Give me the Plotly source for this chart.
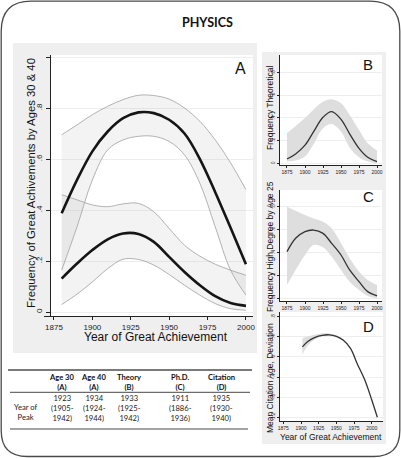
import plotly.graph_objects as go

W, H = 401, 458

# ---------------- data ----------------
yrs_a = [1880, 1890, 1900, 1910, 1920, 1930, 1940, 1950, 1960, 1970, 1980, 1990, 2000]
age40_mean = [0.387, 0.518, 0.63, 0.708, 0.76, 0.783, 0.78, 0.754, 0.70, 0.60, 0.47, 0.33, 0.187]
age40_hi = [0.695, 0.734, 0.774, 0.807, 0.833, 0.85, 0.849, 0.835, 0.80, 0.748, 0.675, 0.585, 0.48]
age40_lo = [0.164, 0.334, 0.518, 0.636, 0.675, 0.689, 0.689, 0.669, 0.616, 0.505, 0.334, 0.164, 0.066]
age30_mean = [0.131, 0.19, 0.243, 0.285, 0.308, 0.306, 0.275, 0.216, 0.157, 0.105, 0.062, 0.035, 0.024]
age30_hi = [0.46, 0.44, 0.42, 0.413, 0.424, 0.426, 0.393, 0.328, 0.262, 0.219, 0.1875, 0.164, 0.144]
age30_lo = [0.029, 0.07, 0.118, 0.17, 0.207, 0.206, 0.184, 0.147, 0.105, 0.066, 0.033, 0.013, 0.007]

yrs_bc = [1875, 1887, 1900, 1912, 1925, 1937, 1950, 1962, 1975, 1987, 2000]
theory_mean = [0.038, 0.082, 0.16, 0.28, 0.406, 0.456, 0.388, 0.26, 0.132, 0.053, 0.015]
theory_hi = [0.265, 0.33, 0.40, 0.476, 0.544, 0.565, 0.53, 0.426, 0.294, 0.176, 0.112]
theory_lo = [0.015, 0.024, 0.06, 0.17, 0.31, 0.347, 0.28, 0.14, 0.053, 0.015, 0.0]

phd_mean = [0.407, 0.524, 0.582, 0.596, 0.567, 0.48, 0.378, 0.247, 0.145, 0.058, 0.02]
phd_hi = [0.80, 0.765, 0.727, 0.698, 0.669, 0.611, 0.48, 0.349, 0.233, 0.16, 0.116]
phd_lo = [0.116, 0.247, 0.378, 0.465, 0.445, 0.364, 0.247, 0.145, 0.073, 0.02, 0.0]

yrs_d = [1902, 1910, 1920, 1930, 1940, 1950, 1960, 1970, 1980, 1990, 2000, 2008]
cite_mean = [0.20, 0.31, 0.39, 0.43, 0.44, 0.41, 0.33, 0.17, -0.15, -0.45, -0.85, -1.20]
cite_hi = [0.37, 0.41, 0.44, 0.47, 0.465, 0.425, 0.34, 0.18, -0.14, -0.44, -0.84, -1.19]
cite_lo = [0.05, 0.23, 0.35, 0.41, 0.42, 0.40, 0.32, 0.16, -0.16, -0.46, -0.86, -1.21]

x_ticks = [1875, 1900, 1925, 1950, 1975, 2000]
a_yticks = [0, 0.2, 0.4, 0.6, 0.8, 1.0]
a_yticklabels = ["0", ".2", ".4", ".6", ".8", ""]
bc_yticks = [0, 0.2, 0.4, 0.6, 0.8]
bc_yticklabels = ["0", ".2", ".4", ".6", ".8"]
d_yticks = [-1.2, -0.8, -0.4, 0, 0.4, 0.8]
d_yticklabels = ["-1.2", "-.8", "-.4", "0", ".4", ".8"]

table_cols = ["Age 30<br>(A)", "Age 40<br>(A)", "Theory<br>(B)", "Ph.D.<br>(C)", "Citation<br>(D)"]
table_vals = ["1923<br>(1905-<br>1942)", "1934<br>(1924-<br>1944)", "1933<br>(1925-<br>1942)",
              "1911<br>(1886-<br>1936)", "1935<br>(1930-<br>1940)"]
row_label = "Year of<br>Peak"

# ---------------- helpers ----------------
def X(px):
    return px / W

def Y(py):
    return 1 - py / H

ARIAL = "Liberation Sans, Arial, sans-serif"
CAL = "Lato, Open Sans, sans-serif"

fig = go.Figure()

def band(x, lo, hi, xa, ya, fill, linecol, lw):
    fig.add_trace(go.Scatter(x=x, y=lo, mode="lines", line=dict(color=linecol, width=lw, shape="spline"),
                             xaxis=xa, yaxis=ya, hoverinfo="skip"))
    fig.add_trace(go.Scatter(x=x, y=hi, mode="lines", line=dict(color=linecol, width=lw, shape="spline"),
                             fill="tonexty", fillcolor=fill, xaxis=xa, yaxis=ya, hoverinfo="skip"))

def line(x, y, xa, ya, col, lw):
    fig.add_trace(go.Scatter(x=x, y=y, mode="lines", line=dict(color=col, width=lw, shape="spline"),
                             xaxis=xa, yaxis=ya, hoverinfo="skip"))

# Panel A
band(yrs_a, age40_lo, age40_hi, "x", "y", "rgba(175,175,175,0.15)", "#a0a0a0", 0.8)
band(yrs_a, age30_lo, age30_hi, "x", "y", "rgba(175,175,175,0.15)", "#a0a0a0", 0.8)
line(yrs_a, age40_mean, "x", "y", "#151515", 2.6)
line(yrs_a, age30_mean, "x", "y", "#151515", 2.6)

# Panel B
band(yrs_bc, theory_lo, theory_hi, "x2", "y2", "#dedede", "rgba(0,0,0,0)", 0)
line(yrs_bc, theory_mean, "x2", "y2", "#333333", 1.3)
# Panel C
band(yrs_bc, phd_lo, phd_hi, "x3", "y3", "#dedede", "rgba(0,0,0,0)", 0)
line(yrs_bc, phd_mean, "x3", "y3", "#333333", 1.3)
# Panel D
band(yrs_d, cite_lo, cite_hi, "x4", "y4", "#dedede", "rgba(0,0,0,0)", 0)
line(yrs_d, cite_mean, "x4", "y4", "#333333", 1.3)

common = dict(showline=True, linecolor="#222222", linewidth=0.8, ticks="outside", tickcolor="#222222",
              automargin=False, zeroline=False, fixedrange=True, ticklabeloverflow="allow")

def xax(dom, rng, size, tlen):
    return dict(domain=[X(dom[0]), X(dom[1])], range=rng, tickvals=x_ticks, ticktext=[str(t) for t in x_ticks],
                tickfont=dict(family=ARIAL, size=size, color="#222222"), ticklen=tlen, showgrid=False, **common)

def yax(dom, rng, vals, labels, size, tlen, anchor):
    return dict(domain=[Y(dom[1]), Y(dom[0])], range=rng, tickvals=vals, ticktext=labels, tickangle=-90,
                tickfont=dict(family=ARIAL, size=size, color="#222222"), ticklen=tlen,
                showgrid=True, gridcolor="#eeeeee", gridwidth=0.8, anchor=anchor, **common)

ya = yax((55, 316), [-0.0157, 1.008], a_yticks, a_yticklabels, 8, 4, "free")
ya["position"] = X(49.5)

fig.update_layout(
    width=W, height=H, margin=dict(l=0, r=0, t=0, b=0, pad=0),
    paper_bgcolor="white", plot_bgcolor="rgba(0,0,0,0)", showlegend=False,
    xaxis=dict(anchor="y", **xax((44, 253), [1868.5, 2004.6], 8, 3)),
    yaxis=ya,
    xaxis2=dict(anchor="y2", **xax((280, 382), [1865.3, 2006.9], 5, 2)),
    yaxis2=yax((55, 165), [-0.015, 0.956], bc_yticks, bc_yticklabels, 4.5, 2, "x2"),
    xaxis3=dict(anchor="y3", **xax((280, 382), [1865.3, 2006.9], 5, 2)),
    yaxis3=yax((190, 301), [-0.024, 0.946], bc_yticks, bc_yticklabels, 4.5, 2, "x3"),
    xaxis4=dict(anchor="y4", **xax((280, 383), [1870.3, 2016], 5, 2)),
    yaxis4=yax((312, 421), [-1.274, 0.893], d_yticks, d_yticklabels, 4.5, 2, "x4"),
)

shapes = []
def rect(x0, y0, x1, y1, fill, lw=0, lc=None):
    shapes.append(dict(type="rect", xref="paper", yref="paper", x0=X(x0), x1=X(x1), y0=Y(y1), y1=Y(y0),
                       fillcolor=fill, line=dict(width=lw, color=lc or fill), layer="below"))

# outer rounded border
rt, rb = 30, 26
L, R, T, B = 1.2, 399.8, 1.2, 456.5
def P(px, py):
    return f"{X(px):.5f},{Y(py):.5f}"
path = (f"M {P(L+rt, T)} L {P(R-rt, T)} Q {P(R, T)} {P(R, T+rt)} L {P(R, B-rb)} Q {P(R, B)} {P(R-rb, B)} "
        f"L {P(L+rb, B)} Q {P(L, B)} {P(L, B-rb)} L {P(L, T+rt)} Q {P(L, T)} {P(L+rt, T)} Z")
shapes.append(dict(type="path", xref="paper", yref="paper", path=path, line=dict(color="#4a4a4a", width=1.3),
                   fillcolor="rgba(0,0,0,0)", layer="below"))

# gray graph regions
rect(13, 43, 257, 353, "#efefef")
rect(262, 52, 386, 444, "#efefef")
# white plot regions
rect(50, 55, 253, 316, "white")
rect(280, 55, 382, 165, "white")
rect(280, 190, 382, 301, "white")
rect(280, 312, 383, 421, "white")

# table rules
shapes.append(dict(type="line", xref="paper", yref="paper", x0=X(8), x1=X(252), y0=Y(370), y1=Y(370),
                   line=dict(color="#7a7a7a", width=2.2)))
shapes.append(dict(type="line", xref="paper", yref="paper", x0=X(10), x1=X(250), y0=Y(392.3), y1=Y(392.3),
                   line=dict(color="#333333", width=0.9)))
shapes.append(dict(type="line", xref="paper", yref="paper", x0=X(10), x1=X(248), y0=Y(429), y1=Y(429),
                   line=dict(color="#333333", width=0.9)))
fig.update_layout(shapes=shapes)

ann = []
def text(s, px, py, size, family=ARIAL, bold=False, angle=0, color="#111111"):
    if bold:
        s = "<b>" + s + "</b>"
    ann.append(dict(text=s, x=X(px), y=Y(py), xref="paper", yref="paper", showarrow=False,
                    xanchor="center", yanchor="middle", textangle=angle,
                    font=dict(family=family, size=size, color=color)))

text("PHYSICS", 207, 23, 12.5, family=CAL, bold=True)
text("Frequency of Great Achivements by Ages 30 &amp; 40", 31, 183, 11.3, angle=-90)
text("Year of Great Achievement", 156, 337, 12)
text("A", 240, 68, 16)
text("B", 368, 64, 15)
text("C", 368, 196, 15)
text("D", 368, 326, 15)
text("Frequency Theoretical", 270, 108, 8.5, angle=-90)
text("Frequency High Degree by Age 25", 270, 247, 8.5, angle=-90)
text("Mean Citation Age, Deviation", 270, 378, 8.5, angle=-90)
text("Year of Great Achievement", 331, 437, 8.5)

col_x = [62, 94, 129, 180, 221]
for cx, hdr, val in zip(col_x, table_cols, table_vals):
    text("<b>" + hdr.replace("<br>", "</b><br><b>") + "</b>", cx, 381.5, 7.6, family=CAL)
    text(val, cx, 407.5, 7.6, family=CAL, color="#222222")
text(row_label, 25, 412, 7.6, family=CAL, color="#222222")

fig.update_layout(annotations=ann)
fig.write_html("out.html", config={"displayModeBar": False},
               post_script="document.body.style.margin='0';document.body.style.overflow='hidden';")
